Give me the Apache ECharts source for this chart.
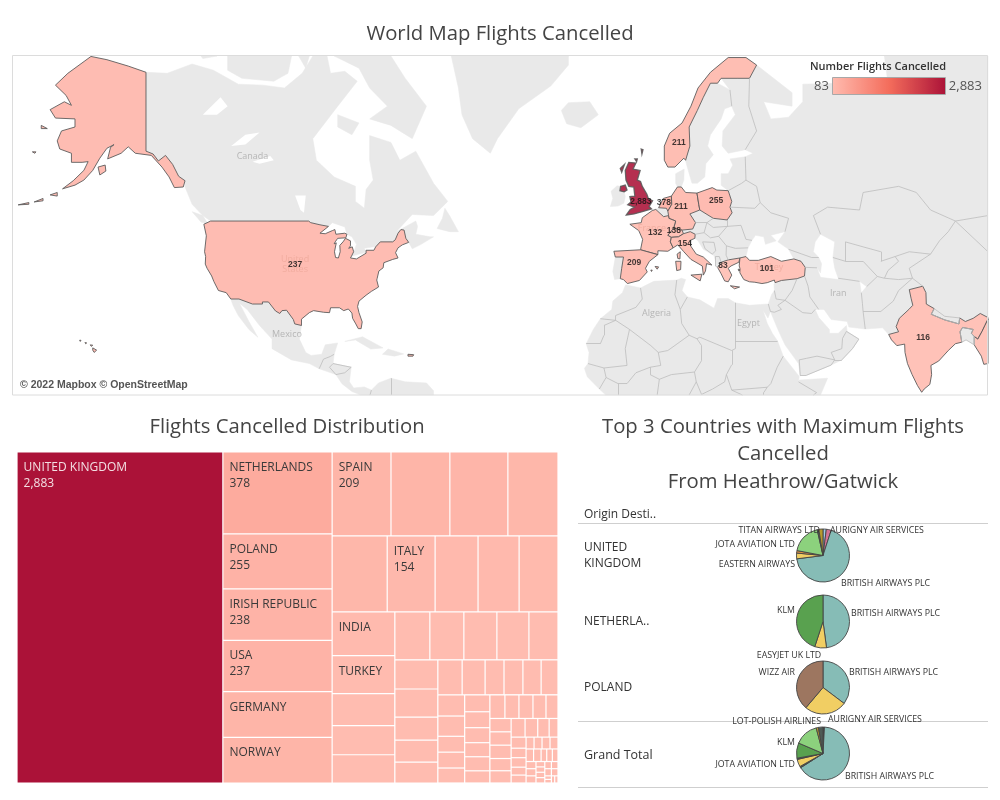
<!DOCTYPE html>
<html><head><meta charset="utf-8">
<script src="https://cdn.jsdelivr.net/npm/echarts@6/dist/echarts.min.js"></script>
<style>html,body{margin:0;padding:0;background:#fff}#c{width:1000px;height:800px}</style>
</head><body><div id="c"></div>
<script>
const FONT = '"Open Sans",sans-serif';

/* ---------- values ---------- */
const mapCountries = ['United Kingdom','Netherlands','Poland','United States','Germany','Norway','Spain','Switzerland','Italy','France','India','Turkey','Greece'];
const mapValues    = [2883,378,255,237,211,211,209,138,154,132,116,101,83];
const mapLabelLonLat = [[-1.6,52.4],[4.9,52.2],[19.6,52.6],[-99,40.2],[9.7,51.5],[9.1,61.4],[-3.5,40.8],[7.7,47.1],[10.8,44.6],[2.4,46.9],[77.9,23],[33.9,39.4],[21.5,40]];
const legendMin = 83, legendMax = 2883;

const placeNames  = ['Canada','Mexico','Algeria','Egypt','Iran'];
const placeLonLat = [[-111,59.6],[-101.3,23.8],[2.8,29],[28.7,26.5],[54,33.9]];
const placeOnPink = ['United\nStates','Turkey','France'];
const placeOnPinkLonLat = [[-99,40.4],[34.5,39.6],[1.5,47.6]];

/* treemap: every inner list sits inside what is left by the list before it */
const ukValue = 2883;
const tmBlocks = [
  [378,255,238,237,[211,211]],
  [209,209,206,178],
  [177,154,138,132,125],
  [116,101,85,77,75],
  [71,69,67,65,59],
  [53,51,42,40,38],
  [36,34,28,28,27,25],
  [24,23,18,18,17],
  [18,17,16,15,15,13],
  [15,14,14,13,12],
  [12,12,12,11,11],
  [11,10,9,7],
  [7,6,6,5,5],
  [4,4,4,4],
  [4,4,3,3,3,3,3,3,2,2,2,2,2,2,2,2,1,1,1,1]
];
const tmLabelsWithValue = {'0.0':'NETHERLANDS','0.1':'POLAND','0.2':'IRISH REPUBLIC','0.3':'USA','1.0':'SPAIN','2.1':'ITALY'};
const tmLabelsNameOnly  = {'0.4.0':'GERMANY','0.4.1':'NORWAY','3.0':'INDIA','3.1':'TURKEY'};

/* pies */
const pieColors = {teal:'#86bcb6',lgreen:'#8cd17d',green:'#59a14f',yellow:'#f1ce63',pink:'#d37295',blue:'#a0cbe8',olive:'#b6992d',brown:'#9d7660',tan:'#e49444',dark:'#4e5a55'};
const pieUK = [['',58,'blue'],['AURIGNY AIR SERVICES',86,'pink'],['BRITISH AIRWAYS PLC',1960,'teal'],['EASTERN AIRWAYS',101,'yellow'],['JOTA AVIATION LTD',43,'tan'],['',533,'lgreen'],['',29,'dark'],['TITAN AIRWAYS LTD',73,'olive']];
const pieNL = [['BRITISH AIRWAYS PLC',181,'teal'],['EASYJET UK LTD',27,'yellow'],['KLM',170,'green']];
const piePL = [['BRITISH AIRWAYS PLC',90,'teal'],['',66,'yellow'],['WIZZ AIR',99,'brown']];
const pieGT = [['',10,'dark'],['AURIGNY AIR SERVICES',20,'pink'],['',35,'dark'],['BRITISH AIRWAYS PLC',4700,'teal'],['',60,'dark'],['JOTA AVIATION LTD',330,'yellow'],['',55,'dark'],['KLM',670,'green'],['',1040,'lgreen'],['LOT-POLISH AIRLINES',100,'olive'],['',200,'dark']];
const tableRows = ['UNITED\nKINGDOM','NETHERLA..','POLAND','Grand Total'];

/* ---------- outlines (lon,lat) ---------- */
const landGrey = {
 Greenland:[[-55,71.2],[-53,68],[-52,65],[-49,62],[-44,60],[-42,62],[-36,65.7],[-27,68.2],[-22,70.3],[-22,71.2]],
 Iceland:[[-24,65.5],[-22,66.4],[-16,66.5],[-13.6,65],[-18.5,63.4],[-22.5,63.9]],
 Canada:[[-141,69.6],[-135,69.5],[-128,70.4],[-122,69.8],[-115,68.4],[-108,68.3],[-102,68],[-97,69.5],[-94,71.2],[-90,71.2],[-89,69.5],[-85,69.7],[-81.5,68.7],[-87,66],[-94,62],[-93,59],[-88,56.5],[-82,55],[-82,52.5],[-79.5,51.3],[-79,54.5],[-77,56],[-78,59],[-78,62.4],[-72,61.5],[-69.5,59],[-65,60.3],[-60,55.5],[-56,52.5],[-60,50],[-66,50.2],[-70.5,47],[-65,49],[-64.5,48],[-65,46.5],[-61,46],[-60,46],[-63.5,44.5],[-66,43.6],[-67,44.9],[-67.8,45.7],[-68.3,47.3],[-69.2,47.4],[-70,46.7],[-70.8,45.4],[-71.5,45],[-75,45],[-76.3,44],[-77,44],[-79.5,43.7],[-79,42.9],[-83,42.1],[-82.4,43],[-81.7,44.5],[-83,46],[-84.4,46.5],[-85,47.9],[-88.5,48.7],[-89.6,48],[-92,48.3],[-94.6,48.7],[-95.2,49],[-122.8,49],[-125,50],[-128,52],[-130,54.9],[-130,55.9],[-131.8,56.6],[-133.5,58.4],[-135.5,59.7],[-137.5,58.9],[-139,59.9],[-141,60.3]],
 Banks:[[-125.5,71.2],[-125,70.9],[-121,71.2]],
 Victoria:[[-118,71.2],[-118,69.8],[-114,69],[-105,68.7],[-101,69.5],[-100,71.2]],
 Somerset:[[-98,71.2],[-96,70],[-95,71.2]],
 Baffin:[[-88,71.2],[-81,70],[-78,68],[-73,66],[-78,64.5],[-72,63.7],[-66,62],[-62,66],[-68,69],[-72,71.2]],
 Southampton:[[-87,65],[-81,64],[-83,62.5],[-87,63.5]],
 Newfoundland:[[-59,47.6],[-55.5,47],[-53,47],[-55.5,50],[-56.8,51.3],[-57.5,49.5]],
 Vancouver:[[-128,50.7],[-125,50],[-123.5,48.4],[-125.5,48.8]],
 Mexico:[[-117.1,32.5],[-114.8,32.5],[-111,31.3],[-108.2,31.3],[-108.2,31.8],[-106.5,31.8],[-104.5,29.6],[-103.3,29],[-102.7,29.7],[-101.4,29.8],[-99.5,27.5],[-99.1,26.4],[-97.2,26],[-97.8,22.5],[-96,19],[-94.5,18.2],[-91.5,18.5],[-90.5,21],[-87,21.5],[-88,18.5],[-89.1,17.9],[-91,17.2],[-92.2,14.6],[-95,16],[-100,17],[-105.5,20],[-105.5,22.5],[-109,26],[-112.5,30],[-114.7,31.5],[-112,27],[-109.5,23],[-112,25],[-115,28.5],[-116.5,31]],
 CentralAm:[[-92.2,14.6],[-91,17.2],[-89.1,17.9],[-88,18.5],[-88.3,16],[-83.2,15],[-83.7,11],[-82.5,9.3],[-79.5,9.6],[-77.5,8.7],[-77.9,7.3],[-80.5,7.3],[-83,8.3],[-85.8,10.5],[-87.5,13]],
 Honduras:[[-89.3,15],[-88.3,16],[-83.2,15],[-85,13.5],[-87.5,13]],
 Colombia:[[-77.5,8.7],[-75.5,10.7],[-72,12],[-72,7.3],[-77.9,7.3]],
 Venezuela:[[-72,12],[-68,11],[-62,10.7],[-60,8.5],[-60,7.3],[-72,7.3]],
 Cuba:[[-85,21.9],[-80,23.1],[-74.2,20.2],[-77.7,19.9],[-82,22.3]],
 Hispaniola:[[-74.4,18.5],[-72.8,19.9],[-68.4,18.6],[-71,18]],
 Ireland:[[-10,54.2],[-8.3,55.1],[-7.3,55],[-7.5,54.3],[-6.3,54.1],[-6,53.3],[-6.4,52.2],[-8,51.7],[-10.2,51.6],[-9.5,53]],
 Portugal:[[-8.8,41.9],[-6.5,41.9],[-7,39.5],[-7.4,37.2],[-9,37],[-9.5,38.8]],
 Belgium:[[2.6,51.1],[3.4,51.4],[5.6,51.3],[6,50.8],[6.2,50],[4.8,49.8]],
 Denmark:[[8.2,57],[10.6,57.7],[10.5,56],[9.8,54.9],[8.7,54.9],[8.2,55.5]],
 Sweden:[[11,59],[12.2,61],[12,63.5],[14.3,65.5],[16,67],[18,68.5],[20,68.5],[23.5,67.8],[24,66],[22,65.7],[21,64.5],[18,62.5],[17.2,61],[18.8,59.8],[16.7,58.5],[16.4,56.5],[14.3,55.5],[12.8,55.5],[11.2,58.5]],
 Finland:[[23.5,67.8],[21,69],[25.5,69],[29,69],[28.8,66],[31,63],[27.8,60.5],[23,60],[21.3,61],[21.5,63],[25,65],[24,66]],
 Russia:[[31,70.3],[41,67.5],[41,66],[33,66.5],[35,64.5],[40,64.7],[44,66.5],[44,68.4],[54,68.5],[60,69],[68,68.5],[67,71.2],[96.2,71.2],[96.2,50],[87,49],[80,51],[76,54],[71,55],[61,54],[60,51],[51,51.5],[47,50],[49,46.5],[47.5,45],[47,43],[48.5,41.8],[46.5,41.8],[40,43.5],[37,45],[39,47],[40,49.5],[35,50.5],[32,52.3],[31,55],[28,56],[27.8,59.5],[30,60],[27.8,60.5],[31,63],[28.8,66],[29,69]],
 Baltics:[[23.5,59.2],[27.8,59.5],[28,56],[26.8,55.5],[23,54.3],[21,55.2],[21,57],[23,57],[24.3,58.3]],
 Belarus:[[23,54.3],[26.8,55.5],[28,56],[31,55],[32,52.3],[30.5,51.3],[23.5,51.5],[24,52.5]],
 Ukraine:[[24.1,50.5],[23.5,51.5],[30.5,51.3],[32,52.3],[35,50.5],[40,49.5],[39,47],[35,46.3],[36.5,45.2],[33.5,44.5],[33,46],[30.7,46.3],[29.7,45.3],[28,45.5],[26.6,48.2],[22.7,48],[22.7,49.2]],
 Romania:[[20.3,46.1],[22.7,48],[26.6,48.2],[28,45.5],[29.7,45.3],[28.6,43.8],[25,43.7],[22.5,44.2]],
 Bulgaria:[[22.5,44.2],[25,43.7],[28.6,43.8],[28,42],[26.3,41.7],[23,41.3],[22.4,42.3]],
 Czechia:[[12.2,50.3],[15,51],[18.8,49.5],[17,48.7],[13.8,48.7]],
 Slovakia:[[17,48.7],[18.8,49.5],[22.7,49.2],[22.7,48],[18.8,47.8]],
 Austria:[[10,47.3],[13,47.5],[13.8,48.7],[17,48.7],[16.2,46.8],[13.7,46.5],[12.3,47],[10.4,46.6]],
 Hungary:[[16.2,46.8],[17,48.7],[18.8,47.8],[22.7,48],[20.3,46.1],[18,45.8]],
 Balkans:[[13.6,45.7],[13.7,46.5],[16.2,46.8],[18,45.8],[20.3,46.1],[22.5,44.2],[22.4,42.3],[23,41.3],[21,40.8],[20,39.7],[19.4,41],[19,42.2],[16,43.5],[14.5,45.2]],
 Bosnia:[[15.8,45],[19,44.9],[19.5,43.2],[18.5,42.5],[16.5,43.6]],
 Albania:[[19.4,40],[20,39.7],[21,40.8],[20.5,42],[19.4,42]],
 Morocco:[[-5.9,35.8],[-1.7,35.1],[-1.2,32.5],[-3,30.5],[-8.7,28.5],[-8.7,27.3],[-13,27.7],[-9.8,30],[-9.5,32],[-6.8,34]],
 WSahara:[[-13,27.7],[-8.7,27.3],[-12,26],[-12,23.5],[-13,21.3],[-17,21.3],[-15,25]],
 Algeria:[[-1.7,35.1],[2,36.6],[8.5,36.9],[8,33.5],[9.5,30],[9.9,26.5],[12,23.5],[6,19.5],[3.3,19],[1.2,20.8],[-4.8,25],[-8.7,27.3],[-8.7,28.5],[-3,30.5],[-1.2,32.5]],
 Tunisia:[[9.5,30],[11.5,33],[10,34.5],[11,37],[9.8,37.3],[8.5,36.9],[8,33.5]],
 Libya:[[25,31.6],[25,22],[25,20],[24,19.5],[15,23],[14.2,22.6],[12,23.5],[9.9,26.5],[9.5,30],[11.5,33],[15,32.3],[19,30.3],[20,32.6],[23,32.6]],
 Egypt:[[25,31.6],[29,31],[32,31.2],[34.3,31.3],[34.9,29.5],[34.2,27.9],[32.8,29.8],[34,26.5],[35.5,23.9],[36.9,22],[25,22]],
 Mauritania:[[-17,21.3],[-13,21.3],[-12,23.5],[-12,26],[-8.7,27.3],[-4.8,25],[-6,20],[-5.5,15.5],[-12,14.8],[-16.5,16],[-16.2,19]],
 Mali:[[-4.8,25],[1.2,20.8],[3.3,19],[4,15.5],[1,15],[-3,13.5],[-5.5,10.5],[-8,10.5],[-11.4,12.2],[-12,14.8],[-5.5,15.5],[-6,20]],
 Niger:[[12,23.5],[14.2,22.6],[15.5,20.8],[15.5,16.8],[13.5,13.7],[7,13],[3.6,11.7],[1,13],[1,15],[4,15.5],[3.3,19],[6,19.5]],
 Chad:[[15,23],[24,19.5],[24,15.7],[22.5,13],[22,11],[18.6,9],[15.5,7.5],[14,11],[13.5,13.7],[15.5,16.8],[15.5,20.8],[14.2,22.6]],
 Sudan:[[25,22],[36.9,22],[38.5,18],[36.8,15],[35,10.5],[34,9.5],[24,8.7],[22.5,13],[24,15.7],[24,19.5],[25,20]],
 Ethiopia:[[36.8,15],[38.5,18],[43,12.5],[42.8,11],[47.9,8],[47,7.3],[33,7.3],[33,8],[34,9.5],[35,10.5]],
 Somalia:[[43,11.5],[51,12],[49,7.3],[47,7.3],[47.9,8],[42.8,11]],
 Nigeria:[[3,7.3],[3.6,11.7],[7,13],[13.5,13.7],[14,11],[12,7.3]],
 Senegal:[[-17.5,14.7],[-16.5,16],[-12,14.8],[-11.4,12.2],[-13.3,9],[-16.7,12.4]],
 Guinea:[[-13.3,9],[-11.4,12.2],[-8,10.5],[-8,7.3],[-11.5,7.3]],
 Burkina:[[-5.5,10.5],[-3,13.5],[1,15],[1,13],[3.6,11.7],[3,7.3],[-8,7.3],[-8,10.5]],
 CAR:[[12,7.3],[14,11],[15.5,7.5],[18.6,9],[22,11],[22.5,13],[24,8.7],[27,7.3]],
 SSudan:[[24,8.7],[34,9.5],[33,8],[33,7.3],[27,7.3]],
 Syria:[[36.2,36.3],[38,36.8],[42.4,37.2],[41,34.5],[39,32.2],[36.5,32.5],[36,34.5],[35.9,36]],
 Jordan:[[34.9,29.5],[34.3,31.3],[35.2,33.5],[36,34.5],[36.5,32.5],[39,32.2],[37,31],[38,30],[36,29.3]],
 Iraq:[[42.4,37.2],[44.5,37.8],[45.5,35.5],[46,33],[48.5,30],[47.5,30],[46.5,29],[44,29.2],[39,32.2],[41,34.5]],
 Arabia:[[34.9,29.5],[36,29.3],[38,30],[37,31],[39,32.2],[44,29.2],[46.5,29],[47.5,30],[48.5,28],[50,26.5],[51.5,25],[51.5,24],[54,24],[56.3,26],[56.5,24.5],[59.8,22.5],[58,20],[55,17],[52,15.6],[45,12.8],[43.3,12.7],[42.8,16],[39,21],[37,25]],
 Yemen:[[43.3,12.7],[45,12.8],[52,15.6],[53,17],[48,18],[45,17.4],[43,17]],
 Oman:[[52,19],[55,20],[55.2,22.7],[56.3,24.5],[59.8,22.5],[58,20],[55,17],[53,17]],
 Iran:[[44.7,39.7],[48,39.6],[49,37.5],[54,37],[54,37.3],[60,36.6],[60.5,34],[60.8,31.5],[61,29.5],[61.6,25.1],[57,25.6],[56.5,27],[52,27.5],[50,30],[48.5,30],[46,33],[45.5,35.5],[44.5,37.8]],
 Caucasus:[[41.5,41.5],[40,43.5],[46.5,41.8],[48.5,41.8],[49.3,40.5],[49,38.5],[48,39.6],[44.7,39.7],[43.5,41]],
 Kazakhstan:[[47,50],[51,51.5],[60,51],[61,54],[71,55],[76,54],[80,51],[87,49],[85,47],[82.5,45.2],[80,42.5],[74,43],[70,42],[66,41],[66,43],[61,44],[56,45],[56,41],[52.5,41.8],[53,45],[49,46.5]],
 Uzbekistan:[[56,45],[61,44],[66,43],[66,41],[70,42],[71,41],[68,39],[67,37.3],[65,37.7],[61,41],[56,41]],
 Turkmenistan:[[52.5,41.8],[56,41],[61,41],[65,37.7],[62,35.4],[60,36.6],[54,37.3],[53,39.5]],
 Kyrgyz:[[70,42],[74,43],[80,42.5],[74,39.5],[74.9,37.3],[71,37],[67,37.3],[68,39],[71,41]],
 Afghanistan:[[60.5,34],[62,35.4],[65,37.7],[67,37.3],[71,37],[74.9,37.3],[71,34.5],[69.5,32],[66,29.5],[61,29.5],[60.8,31.5]],
 Pakistan:[[61,29.5],[66,29.5],[69.5,32],[71,34.5],[74.9,37.3],[77.8,35.5],[74,34.7],[74.5,32.7],[75,31],[73.9,30],[71.2,27.8],[70.3,25.7],[71,24.4],[68.2,23.7],[66.5,25.4],[61.6,25.1]],
 China:[[96.2,28],[94,29],[92,27.8],[89.8,27],[88.2,27.9],[84,28.3],[80.2,30],[78.8,31.3],[78.7,34],[77.8,35.5],[74.9,37.3],[74,39.5],[80,42.5],[82.5,45.2],[85,47],[87,49],[96.2,43]],
 Mongolia:[[87,49],[96.2,50],[96.2,43]],
 Nepal:[[80.2,28.8],[84,27.4],[88,26.4],[88.2,27.9],[84,28.3],[81,30.2]],
 Bangladesh:[[88.8,21.7],[88.3,24.4],[89,25.5],[92,25],[91.5,24],[92.3,23.2],[92.3,21],[90,22.3]]
};
const overlayRegions = ['Bosnia','Albania','Honduras','Yemen','Oman','Nepal','Bangladesh'];
const lakes = {
 GreatBear:[[-125,65],[-120,67],[-118,66],[-121,65]],
 GreatSlave:[[-117,61],[-113,62.5],[-109,62.8],[-113,61.2]],
 Athabasca:[[-111,58.8],[-106,59.6],[-105,59],[-109,58.5]],
 Winnipeg:[[-99,53.5],[-96,53.5],[-96.5,50.5],[-97.5,51]]
};
const landHighlighted = {
 'United States':[
  [[-124.7,48.4],[-122.8,49],[-95.2,49],[-94.6,48.7],[-92,48.3],[-89.6,48],[-92,46.7],[-90.5,46.6],[-88.5,47.2],[-87.8,47.4],[-87.5,46.5],[-85,46.7],[-84.4,46.5],[-84.7,45.8],[-87,45.7],[-87.7,45],[-88,44.6],[-87.4,44.8],[-87.9,43],[-87.6,41.8],[-86.8,41.7],[-86.3,43],[-86.4,44.3],[-85.5,45],[-84.8,45.7],[-83.4,45.2],[-83.4,44.2],[-83.9,43.7],[-82.9,44],[-82.5,43],[-83.1,42.1],[-83.4,41.7],[-81.7,41.5],[-79,42.7],[-79,43.3],[-76.8,43.3],[-76.3,44],[-75,45],[-71.5,45],[-70.8,45.4],[-70,46.7],[-69.2,47.4],[-68.3,47.3],[-67.8,45.7],[-67,44.9],[-68.8,44.4],[-70,43.8],[-70.7,42.8],[-70,41.7],[-71.5,41.4],[-74,40.7],[-74.2,39.6],[-75.4,38.9],[-75.9,37.2],[-76,36.9],[-75.5,35.3],[-77.5,34.3],[-79,33.4],[-81,32],[-81.4,30.7],[-81,29.2],[-80.1,26.9],[-80.4,25.2],[-81.2,25.2],[-81.9,26.4],[-82.8,27.8],[-83,29.1],[-84,30.1],[-85.3,29.7],[-86.5,30.4],[-89,30.4],[-89.3,29.2],[-91,29.3],[-93.8,29.7],[-95,29.2],[-97.2,27.6],[-97.2,26],[-99.1,26.4],[-99.5,27.5],[-101.4,29.8],[-102.7,29.7],[-103.3,29],[-104.5,29.6],[-106.5,31.8],[-108.2,31.8],[-108.2,31.3],[-111,31.3],[-114.8,32.5],[-117.1,32.5],[-118.4,34],[-120.6,34.5],[-121.9,36.6],[-122.5,37.8],[-123.8,39.5],[-124.3,40.4],[-124.2,42],[-124.5,43],[-124,46.2]],
  [[-141,69.6],[-141,60.3],[-139,59.9],[-137.5,58.9],[-135.5,59.7],[-133.5,58.4],[-131.8,56.6],[-130,55.9],[-130.5,54.9],[-133,54.8],[-134.5,56.5],[-136.5,58],[-139.5,59.7],[-144,60],[-146,60.9],[-148,60],[-151.8,59.2],[-151,60.8],[-150,61.2],[-152,60.7],[-154,59.3],[-156,57.5],[-158.5,56],[-161,55.2],[-164.5,54.6],[-161.5,55.9],[-158.5,57.5],[-157.3,58.8],[-159,58.7],[-162,58.7],[-162,60],[-165.3,60.6],[-166,61.7],[-164.8,63],[-161,63.5],[-161,64.5],[-166.5,64.6],[-168,65.6],[-164,66.5],[-162,66.1],[-163.5,67.2],[-166.5,68.3],[-163,69.5],[-156.5,71.1],[-152,70.8],[-146,70.2]],
  [[-154.5,58],[-152.5,58.3],[-152.3,57.4],[-154,56.8]],
  [[-168,53.6],[-166,54],[-166,53.4]],[[-172.5,52.4],[-170,53],[-170,52.6]],[[-177,51.9],[-174,52.3],[-174,52]],
  [[-170.5,63.7],[-168.8,63.3],[-170.5,63.3]],[[-173,60.2],[-172,60.2],[-172.3,60]],
  [[-156,20.2],[-154.9,19.6],[-155.6,19],[-156,19.6]],[[-156.7,21],[-156,20.9],[-156.4,20.6]],[[-158.2,21.6],[-157.7,21.5],[-158,21.3]],[[-159.7,22.2],[-159.3,22.2],[-159.5,21.9]],
  [[-67.2,18.5],[-65.6,18.4],[-65.8,18],[-67.2,18]]
 ],
 'United Kingdom':[
  [[-5.7,50.1],[-3.5,50.3],[-1.2,50.7],[1.4,51.2],[0.7,51.6],[1.7,52.6],[0.5,53],[0.1,53.7],[-1.2,55],[-1.7,55.8],[-2.6,56],[-1.8,57.5],[-3.8,57.7],[-3,58.6],[-5,58.7],[-6,57.5],[-5.8,56],[-5,55],[-3.6,54.9],[-3.4,53.9],[-3.3,53.4],[-4.7,53.3],[-4.4,52.4],[-5.3,51.9],[-3.4,51.5],[-4.6,51.1]],
  [[-7.3,55],[-6,55.2],[-5.5,54.4],[-6.3,54.1],[-7.5,54.3]],
  [[-3.3,59.2],[-2.6,59.2],[-2.8,58.8]],[[-1.5,60.6],[-1,60.5],[-1.3,59.9]],[[-7.4,57.8],[-6.2,58.4],[-7,57.2]]
 ],
 Norway:[[[5,59],[5,61],[6.5,62.7],[10,64],[12.5,66],[14.5,68],[18,69.6],[23,71],[28,71],[31,70.3],[29,69],[25.5,69],[21,69],[20,68.5],[18,68.5],[16,67],[14.3,65.5],[12,63.5],[12.2,61],[11,59],[10.5,59.3],[8,58],[6,58]]],
 Netherlands:[[[3.4,51.4],[4.7,53],[7,53.4],[7.1,52],[6,50.8],[5.6,51.3]]],
 Germany:[[[7,53.4],[8.7,54.9],[9.8,54.9],[11,54],[14.2,53.9],[14.7,52],[15,51],[12.2,50.3],[13.8,48.7],[13,47.5],[10,47.3],[7.6,47.6],[8.2,49],[6.3,49.5],[6.2,50],[6,50.8],[7.1,52]]],
 Poland:[[[14.2,53.9],[18.5,54.8],[19.8,54.4],[23,54.3],[24,52.5],[23.5,51.5],[24.1,50.5],[22.7,49.2],[18.8,49.5],[15,51],[14.7,52]]],
 France:[[[-4.7,48.4],[-1.5,48.7],[-1.2,49.6],[1.6,50.9],[2.6,51.1],[4.8,49.8],[6.2,50],[6.3,49.5],[8.2,49],[7.6,47.6],[6,46.3],[7,45.9],[6.7,45],[7.5,43.8],[6,43.1],[3.2,43.2],[3.2,42.4],[-1.7,43.4],[-1.1,45.5],[-2.2,47.2]],[[8.6,42.5],[9.5,43],[9.4,41.5],[8.8,41.6]]],
 Switzerland:[[[7.6,47.6],[10,47.3],[10.4,46.6],[9,46],[7,45.9],[6,46.3]]],
 Italy:[[[7,45.9],[9,46],[10.4,46.6],[12.3,47],[13.7,46.5],[13.6,45.7],[12.3,45.3],[12.4,44.2],[14,42.5],[16,41.9],[18.4,40.2],[16.9,40.5],[16.6,38.9],[16,38],[15.7,40],[12.5,41.4],[10.5,43],[8.8,44.4],[7.5,43.8],[6.7,45]],[[12.5,38],[15.6,38.2],[15.1,36.7]],[[8.2,41],[9.7,41],[9.6,39.2],[8.5,39]]],
 Spain:[[[-9.2,43.1],[-1.7,43.4],[3.2,42.4],[0.8,41],[-0.3,39.5],[0.2,38.7],[-2,36.8],[-5.4,36.1],[-6.5,37],[-7.4,37.2],[-7,39.5],[-6.5,41.9],[-8.8,41.9]],[[2.4,39.9],[3.4,39.8],[3,39.3]],[[1.2,39.1],[1.6,39.1],[1.4,38.8]]],
 Greece:[[[20,39.7],[21,40.8],[23,41.3],[26.3,41.7],[26,40.8],[23.8,40],[23,39.5],[24,38],[23,36.5],[22,36.7],[21,38.3]],[[23.6,35.6],[26.2,35.3],[24.8,34.9]],[[25.8,39.3],[26.5,39.2],[26,38.9]]],
 Turkey:[[[26.3,41.7],[28,42],[29,41.2],[31.5,41.2],[35,42],[38,41],[41.5,41.5],[43.5,41],[44.7,39.7],[44.5,37.8],[42.4,37.2],[38,36.8],[36.2,36.3],[36,36.9],[34,36.3],[32.5,36.1],[30.5,36.4],[29,36.5],[27.4,37],[26.3,38.5],[26.3,39.5],[26.1,40]]],
 India:[[[68.2,23.7],[69,22.3],[70.5,20.8],[72.7,21.2],[72.8,19],[73.5,16],[74.8,13],[76.3,10],[77.5,8.1],[78.2,9],[79.8,10.3],[80.3,13],[80.1,15.5],[82.3,16.7],[85,19.5],[87,21.3],[88.8,21.7],[88.3,24.4],[89,25.5],[92,25],[91.5,24],[92.3,23.2],[93.3,22.5],[94.5,24.5],[95.3,26],[96.2,27.6],[96.2,28],[94,29],[92,27.8],[89.8,27],[88.2,27.9],[88,26.4],[84,27.4],[80.2,28.8],[81,30.2],[78.8,31.3],[78.7,34],[77.8,35.5],[74,34.7],[74.5,32.7],[75,31],[73.9,30],[71.2,27.8],[70.3,25.7],[71,24.4]]],
 Myanmar:[[[92.3,21],[92.3,23.2],[93.3,22.5],[94.5,24.5],[95.3,26],[96.2,27.6],[96.2,16],[95,15.8],[94.3,18]]]
};
const extraValues = {Myanmar:83};

/* ---------- colours from the value scale ---------- */
const rampColors = ['#ffbcb0','#f46d5c','#ab1238'];
function valueColor(v){
  const t = Math.max(0,Math.min(1,(v-legendMin)/(legendMax-legendMin)));
  return echarts.color.lerp(t, rampColors);
}

/* ---------- map projection: web mercator ---------- */
const PX_PER_RAD = 203.4, PX_PER_DEG = PX_PER_RAD*Math.PI/180;
const merc = lat => Math.log(Math.tan(Math.PI/4+lat*Math.PI/360));
const projection = {
  project: p => [p[0]*PX_PER_DEG, -merc(p[1])*PX_PER_RAD],
  unproject: p => [p[0]/PX_PER_DEG, (2*Math.atan(Math.exp(-p[1]/PX_PER_RAD))-Math.PI/2)*180/Math.PI]
};
const VIEW = {lonMin:-178.46, lonMax:96.18, latMin:7.34, latMax:71.14};
const clampPt = p => [Math.min(VIEW.lonMax,Math.max(VIEW.lonMin,p[0])), Math.min(VIEW.latMax,Math.max(VIEW.latMin,p[1]))];
const ring = r => { const c=r.map(clampPt); c.push(c[0]); return c; };

const features = [];
const addFeature = (name, polys) => features.push({type:'Feature',properties:{name},geometry:{type:'MultiPolygon',coordinates:polys.map(r=>[ring(r)])}});
Object.keys(landGrey).forEach(k=>addFeature(k,[landGrey[k]]));
Object.keys(lakes).forEach(k=>addFeature(k,[lakes[k]]));
Object.keys(landHighlighted).forEach(k=>addFeature(k,landHighlighted[k]));
echarts.registerMap('worldLow',{type:'FeatureCollection',features});

/* country borders: only the edges two grey countries share, so coasts stay unlined */
const edgeCount = {}, borderEdges = [];
Object.keys(landGrey).forEach(k=>{
  const r = ring(landGrey[k]);
  for(let i=0;i<r.length-1;i++){
    const a=r[i].join(), b=r[i+1].join(), key=a<b?a+'|'+b:b+'|'+a;
    edgeCount[key]=edgeCount[key]||{n:0,coords:[r[i],r[i+1]]};
    edgeCount[key].n++;
    if(overlayRegions.includes(k)) edgeCount[key].n=2;
  }
});
Object.values(edgeCount).forEach(e=>{ if(e.n>=2) borderEdges.push({coords:e.coords}); });

const valueByName = {...extraValues};
mapCountries.forEach((c,i)=>valueByName[c]=mapValues[i]);
const regions = [];
Object.keys(lakes).forEach(k=>regions.push({name:k,itemStyle:{areaColor:'#ffffff',borderColor:'#ffffff',borderWidth:0}}));
Object.keys(landHighlighted).forEach(k=>regions.push({name:k,itemStyle:{areaColor:valueColor(valueByName[k]),opacity:0.88,borderColor:'#5a5a5a',borderWidth:k==='United Kingdom'?1.3:1}}));

/* ---------- treemap tree ---------- */
const fmt = v => v.toLocaleString('en-US');
function leaf(v,key){
  const withValue = tmLabelsWithValue[key], nameOnly = tmLabelsNameOnly[key];
  const text = withValue ? withValue+'\n'+fmt(v) : nameOnly;
  return {name:text?text.split('\n')[0]:'',value:v,
    itemStyle:{color:valueColor(v),borderColor:'#fff',borderWidth:0.6},
    label:{show:!!text,formatter:text||''}};
}
function group(children){ return {name:'',children,itemStyle:{borderWidth:0,gapWidth:0}}; }
function buildFrom(i){
  const kids = tmBlocks[i].map((v,j)=>Array.isArray(v)
    ? group(v.map((w,k)=>leaf(w,i+'.'+j+'.'+k)))
    : leaf(v,i+'.'+j));
  if(i+1<tmBlocks.length) kids.push(buildFrom(i+1));
  return group(kids);
}
const ukLeaf = {name:'UNITED KINGDOM',value:ukValue,itemStyle:{color:valueColor(ukValue),borderColor:'#fff',borderWidth:0.6},
  label:{show:true,color:'#f3dfe3',formatter:'UNITED KINGDOM\n'+fmt(ukValue)}};

/* ---------- pies ---------- */
const PIE_X = 823, PIE_R = 26.5;
const pieSets = [pieUK,pieNL,piePL,pieGT];
const pieY = [555.5,621.5,687.5,753.5];
const pieAnchors = [
 {'AURIGNY AIR SERVICES':[830,530,'left'],'BRITISH AIRWAYS PLC':[841,583,'left'],'EASTERN AIRWAYS':[795,564,'right'],'JOTA AVIATION LTD':[795,544,'right'],'TITAN AIRWAYS LTD':[820,530,'right']},
 {'BRITISH AIRWAYS PLC':[851,613,'left'],'EASYJET UK LTD':[789,655,'center'],'KLM':[795,610,'right']},
 {'BRITISH AIRWAYS PLC':[849,672,'left'],'WIZZ AIR':[795,672,'right']},
 {'AURIGNY AIR SERVICES':[828,719,'left'],'BRITISH AIRWAYS PLC':[845,776,'left'],'JOTA AVIATION LTD':[795,764,'right'],'KLM':[795,742,'right'],'LOT-POLISH AIRLINES':[821,721,'right']}
];
const pieSeries = pieSets.map((set,si)=>({
  type:'pie',silent:true,animation:false,center:[PIE_X,pieY[si]],radius:[0,PIE_R],startAngle:90,clockwise:true,
  avoidLabelOverlap:false,minAngle:0,
  itemStyle:{borderColor:'#444',borderWidth:0.9},
  label:{show:true,position:'outside',fontFamily:FONT,fontSize:8.8,color:'#333',formatter:'{b}'},
  labelLine:{show:false},
  labelLayout:function(p){
    const a=pieAnchors[si][set[p.dataIndex][0]];
    return a?{x:a[0],y:a[1],align:a[2],verticalAlign:'middle'}:{};
  },
  emphasis:{disabled:true},
  data:set.map(d=>({name:d[0],value:d[1],itemStyle:{color:pieColors[d[2]]},label:{show:!!d[0]}}))
}));

/* ---------- static text and rules ---------- */
const txt=(text,x,y,size,fill,extra)=>({type:'text',silent:true,z:20,style:Object.assign({text,x,y,fill,font:size+'px '+FONT,textVerticalAlign:'middle',lineHeight:16},extra||{})});
const rule=(x1,y,x2,col)=>({type:'line',silent:true,z:1,shape:{x1,y1:y,x2,y2:y},style:{stroke:col||'#cfcfcf',lineWidth:1}});
const graphic=[
  {type:'rect',silent:true,z:30,shape:{x:12.5,y:55.5,width:975,height:339.5},style:{fill:'none',stroke:'#dcdcdc',lineWidth:1}},
  {type:'rect',silent:true,z:30,shape:{x:832.5,y:77.5,width:113,height:17},style:{fill:'none',stroke:'#a8a8a8',lineWidth:1}},
  {type:'rect',silent:true,z:19,shape:{x:16,y:379,width:177,height:13},style:{fill:'rgba(255,255,255,0.7)'}},
  {type:'text',silent:true,z:20,style:{text:'© 2022 Mapbox © OpenStreetMap',x:20,y:385.5,fill:'#555',font:'bold 10.5px "Liberation Sans",sans-serif',textVerticalAlign:'middle'}},
  txt('Number Flights Cancelled',810,66.5,11,'#333',{font:'600 11px '+FONT}),
  txt('Origin Desti..',584,515,12,'#333'),
  rule(578,523.5,988),
  txt(tableRows[0],584,556,12,'#333'),
  txt(tableRows[1],584,622,12,'#333'),
  txt(tableRows[2],584,688,12,'#333'),
  rule(578,721.5,988),
  txt(tableRows[3],584,755,12.5,'#333'),
  rule(578,787.5,988)
];

const chart = echarts.init(document.getElementById('c'),null,{renderer:'canvas'});
const titleStyle={fontFamily:FONT,fontSize:20.3,fontWeight:'normal',color:'#444',lineHeight:27.5};
chart.setOption({
  animation:false,backgroundColor:'#fff',
  title:[
    {text:'World Map Flights Cancelled',left:500,top:20,padding:0,textAlign:'center',textStyle:titleStyle},
    {text:'Flights Cancelled Distribution',left:287,top:413,padding:0,textAlign:'center',textStyle:titleStyle},
    {text:'Top 3 Countries with Maximum Flights\nCancelled\nFrom Heathrow/Gatwick',left:783,top:413,padding:0,textAlign:'center',textStyle:titleStyle}
  ],
  geo:{map:'worldLow',projection,silent:true,roam:false,left:13,top:56,width:975,height:339,
    boundingCoords:[[VIEW.lonMin,VIEW.latMax],[VIEW.lonMax,VIEW.latMin]],
    itemStyle:{areaColor:'#e9e9e9',borderColor:'#e9e9e9',borderWidth:0.5},
    label:{show:false},emphasis:{disabled:true},regions},
  visualMap:{type:'continuous',seriesIndex:1,dimension:2,min:legendMin,max:legendMax,orient:'horizontal',calculable:false,realtime:false,
    left:814,top:77,itemWidth:18,itemHeight:114,text:['2,883','83'],textGap:3,padding:0,
    textStyle:{fontFamily:FONT,fontSize:13,color:'#555'},
    inRange:{color:rampColors}},
  graphic,
  series:[
    {type:'scatter',coordinateSystem:'geo',geoIndex:0,silent:true,symbolSize:0,z:5,
     data:placeNames.map((n,i)=>({name:n,value:placeLonLat[i]})).concat(placeOnPink.map((n,i)=>({name:n,value:placeOnPinkLonLat[i],label:{color:'#eda99b'}}))),
     label:{show:true,position:'inside',formatter:'{b}',fontFamily:FONT,fontSize:9,color:'#a9a9a9',lineHeight:10}},
    {type:'scatter',coordinateSystem:'geo',geoIndex:0,silent:true,symbolSize:0,z:6,
     data:mapCountries.map((n,i)=>({name:n,value:[mapLabelLonLat[i][0],mapLabelLonLat[i][1],mapValues[i]]})),
     label:{show:true,position:'inside',formatter:p=>fmt(p.value[2]),fontFamily:'"Liberation Sans",sans-serif',fontSize:8.5,fontWeight:'bold',color:'#111'}},
    {type:'treemap',silent:true,left:17,top:452,width:541,height:331,roam:false,nodeClick:false,sort:false,visibleMin:0,
     breadcrumb:{show:false},squareRatio:0.5*(1+Math.sqrt(5)),
     itemStyle:{borderWidth:0,gapWidth:0,borderColor:'#fff'},upperLabel:{show:false},
     label:{show:false,position:[1,2],fontFamily:FONT,fontSize:12,color:'#3a3a3a',lineHeight:16,overflow:'none'},
     emphasis:{disabled:true},
     data:[ukLeaf,buildFrom(0)]},
    ...pieSeries,
    {type:'lines',coordinateSystem:'geo',geoIndex:0,silent:true,z:3,polyline:false,
     lineStyle:{color:'#bdbdbd',width:0.8,opacity:1,curveness:0},data:borderEdges}
  ]
});
</script></body></html>
